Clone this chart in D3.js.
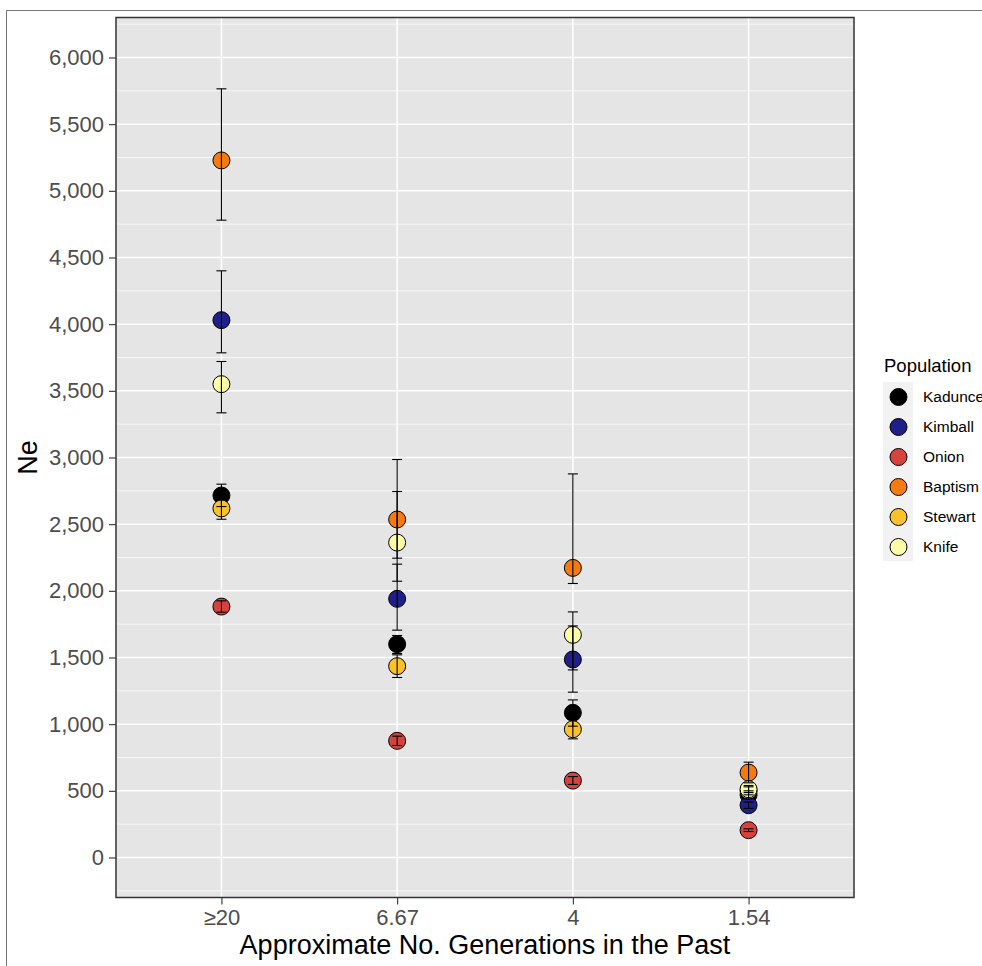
<!DOCTYPE html>
<html>
<head>
<meta charset="utf-8">
<script src="https://cdn.jsdelivr.net/npm/d3@7"></script>
<style>
  body { margin: 0; background: #fff; }
  svg { display: block; font-family: "Liberation Sans", Arial, Helvetica, sans-serif; }
</style>
</head>
<body>
<div id="chart"></div>
<script>
// values
var categories = ["≥20", "6.67", "4", "1.54"];
var populations = ["Kadunce", "Kimball", "Onion", "Baptism", "Stewart", "Knife"];
var colors = ["#000000", "#1f1f8a", "#d6433e", "#f57a12", "#fac12a", "#fbfca6"];

var neKadunce = [2715, 1600, 1085, 470];
var neKimball = [4030, 1940, 1485, 392];
var neOnion   = [1882, 875, 577, 205];
var neBaptism = [5228, 2535, 2172, 637];
var neStewart = [2618, 1435, 962, 500];
var neKnife   = [3550, 2362, 1670, 512];

var loKadunce = [2632, 1530, 985, 440];
var hiKadunce = [2800, 1665, 1182, 500];
var loKimball = [3785, 1705, 1240, 368];
var hiKimball = [4400, 2200, 1737, 416];
var loOnion   = [1840, 840, 548, 195];
var hiOnion   = [1925, 910, 607, 215];
var loBaptism = [4780, 2072, 2055, 560];
var hiBaptism = [5765, 2985, 2877, 715];
var loStewart = [2537, 1350, 890, 470];
var hiStewart = [2700, 1520, 1035, 530];
var loKnife   = [3335, 2245, 1407, 487];
var hiKnife   = [3720, 2745, 1842, 540];

var yTicks = [0, 500, 1000, 1500, 2000, 2500, 3000, 3500, 4000, 4500, 5000, 5500, 6000];

(function() {
  var ne = [neKadunce, neKimball, neOnion, neBaptism, neStewart, neKnife];
  var lo = [loKadunce, loKimball, loOnion, loBaptism, loStewart, loKnife];
  var hi = [hiKadunce, hiKimball, hiOnion, hiBaptism, hiStewart, hiKnife];

  var rows = [];
  populations.forEach(function(p, i) {
    categories.forEach(function(c, j) {
      rows.push({ pop: p, cat: c, ne: ne[i][j], lo: lo[i][j], hi: hi[i][j], color: colors[i] });
    });
  });

  var W = 982, H = 966;
  var panel = { left: 116, right: 854, top: 17.5, bottom: 897.5 };

  var svg = d3.select("#chart").append("svg")
              .attr("width", W)
              .attr("height", H);

  // outer frame of the figure
  svg.append("rect")
     .attr("x", 6.5).attr("y", 10.5)
     .attr("width", W + 20).attr("height", H + 20)
     .attr("fill", "none")
     .attr("stroke", "#777")
     .attr("stroke-width", 1);

  var x = d3.scalePoint()
            .domain(categories)
            .range([panel.left, panel.right])
            .padding(0.6);

  var y = d3.scaleLinear()
            .domain([-300, 6300])
            .range([panel.bottom, panel.top]);

  var color = d3.scaleOrdinal().domain(populations).range(colors);

  svg.append("rect")
     .attr("x", panel.left).attr("y", panel.top)
     .attr("width", panel.right - panel.left)
     .attr("height", panel.bottom - panel.top)
     .attr("fill", "#e5e5e5");

  var minor = d3.range(-250, 6300, 500);
  var grid = svg.append("g");

  grid.selectAll("line.minor")
      .data(minor)
      .enter()
      .append("line")
      .attr("class", "minor")
      .attr("x1", panel.left).attr("x2", panel.right)
      .attr("y1", function(d) { return y(d); })
      .attr("y2", function(d) { return y(d); })
      .attr("stroke", "#fff")
      .attr("stroke-width", 0.7);

  grid.selectAll("line.major")
      .data(yTicks)
      .enter()
      .append("line")
      .attr("class", "major")
      .attr("x1", panel.left).attr("x2", panel.right)
      .attr("y1", function(d) { return y(d); })
      .attr("y2", function(d) { return y(d); })
      .attr("stroke", "#fff")
      .attr("stroke-width", 1.5);

  grid.selectAll("line.vmajor")
      .data(categories)
      .enter()
      .append("line")
      .attr("class", "vmajor")
      .attr("x1", function(d) { return x(d); })
      .attr("x2", function(d) { return x(d); })
      .attr("y1", panel.top).attr("y2", panel.bottom)
      .attr("stroke", "#fff")
      .attr("stroke-width", 1.5);

  // points first, error bars drawn over them
  svg.append("g").selectAll("circle")
     .data(rows)
     .enter()
     .append("circle")
     .attr("cx", function(d) { return x(d.cat); })
     .attr("cy", function(d) { return y(d.ne); })
     .attr("r", 8.5)
     .attr("fill", function(d) { return d.color; })
     .attr("stroke", "#000")
     .attr("stroke-width", 1);

  var bars = svg.append("g")
                .attr("stroke", "#000")
                .attr("stroke-width", 1.1);

  var bar = bars.selectAll("g")
                .data(rows)
                .enter()
                .append("g");

  bar.append("line")
     .attr("x1", function(d) { return x(d.cat); })
     .attr("x2", function(d) { return x(d.cat); })
     .attr("y1", function(d) { return y(d.lo); })
     .attr("y2", function(d) { return y(d.hi); });

  bar.append("line")
     .attr("x1", function(d) { return x(d.cat) - 5; })
     .attr("x2", function(d) { return x(d.cat) + 5; })
     .attr("y1", function(d) { return y(d.lo); })
     .attr("y2", function(d) { return y(d.lo); });

  bar.append("line")
     .attr("x1", function(d) { return x(d.cat) - 5; })
     .attr("x2", function(d) { return x(d.cat) + 5; })
     .attr("y1", function(d) { return y(d.hi); })
     .attr("y2", function(d) { return y(d.hi); });

  // panel border
  svg.append("rect")
     .attr("x", panel.left).attr("y", panel.top)
     .attr("width", panel.right - panel.left)
     .attr("height", panel.bottom - panel.top)
     .attr("fill", "none")
     .attr("stroke", "#333")
     .attr("stroke-width", 1.5);

  // axes
  var yAxis = svg.append("g")
                 .attr("transform", "translate(" + panel.left + ",0)")
                 .call(d3.axisLeft(y).tickValues(yTicks).tickSize(7).tickPadding(5)
                         .tickFormat(d3.format(",")));
  var xAxis = svg.append("g")
                 .attr("transform", "translate(0," + panel.bottom + ")")
                 .call(d3.axisBottom(x).tickSize(7).tickPadding(5));

  [yAxis, xAxis].forEach(function(a) {
    a.select(".domain").remove();
    a.selectAll(".tick line").attr("stroke", "#333").attr("stroke-width", 1.1);
    a.selectAll(".tick text")
     .attr("fill", "#4d4d4d")
     .style("font-size", "22px")
     .style("font-family", "'Liberation Sans', Arial, sans-serif");
  });

  svg.append("text")
     .attr("x", (panel.left + panel.right) / 2)
     .attr("y", 954)
     .attr("text-anchor", "middle")
     .style("font-size", "27px")
     .text("Approximate No. Generations in the Past");

  svg.append("text")
     .attr("transform", "translate(37," + ((panel.top + panel.bottom) / 2) + ") rotate(-90)")
     .attr("text-anchor", "middle")
     .style("font-size", "27px")
     .text("Ne");

  // legend
  var legend = svg.append("g");
  legend.append("text")
        .attr("x", 884).attr("y", 371.5)
        .style("font-size", "18.5px")
        .text("Population");

  legend.append("rect")
        .attr("x", 883).attr("y", 382)
        .attr("width", 30).attr("height", 179)
        .attr("fill", "#f2f2f2");

  var key = legend.selectAll("g.key")
                  .data(populations)
                  .enter()
                  .append("g")
                  .attr("class", "key")
                  .attr("transform", function(d, i) { return "translate(0," + (397 + i * 30) + ")"; });

  key.append("circle")
     .attr("cx", 898.5).attr("cy", 0)
     .attr("r", 8.5)
     .attr("fill", function(d) { return color(d); })
     .attr("stroke", "#000")
     .attr("stroke-width", 1);

  key.append("text")
     .attr("x", 923).attr("y", 0)
     .attr("dy", "0.35em")
     .style("font-size", "15.5px")
     .text(function(d) { return d; });
})();
</script>
</body>
</html>
